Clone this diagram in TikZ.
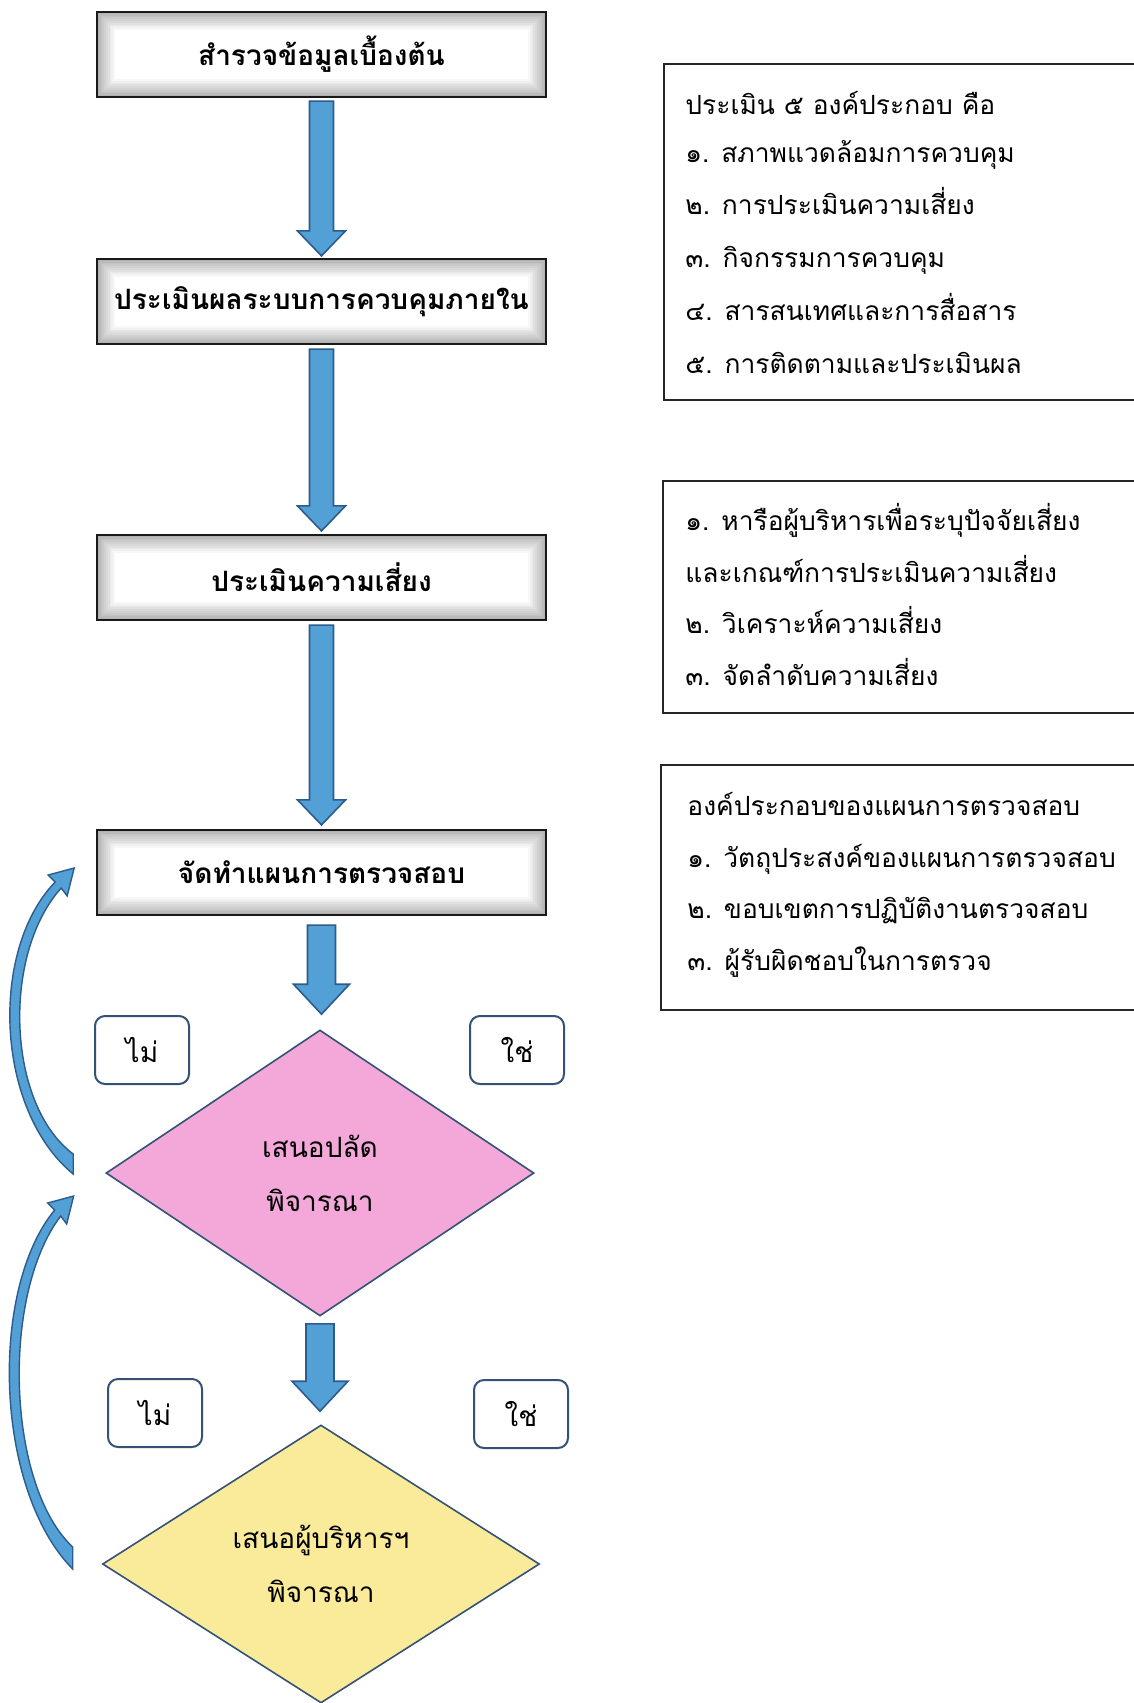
\documentclass[tikz,border=0pt]{standalone}
\usepackage{fontspec}
\newfontfamily\thai[Script=Thai]{Loma}
\usetikzlibrary{shapes.geometric,calc}
\definecolor{arrfill}{RGB}{82,160,214}
\definecolor{arrline}{RGB}{45,92,140}
\definecolor{pinkf}{RGB}{243,168,217}
\definecolor{yellowf}{RGB}{250,235,155}
\definecolor{dline}{RGB}{52,82,118}
\newcommand\fatarrow[5]{%
  \filldraw[fill=arrfill, draw=arrline, line width=0.8pt, line join=miter]
  let \p1=(#1), \p2=(#2) in
  (\x1-#3,\y1) -- (\x1+#3,\y1) -- (\x1+#3,\y2+#5) -- (\x1+#4,\y2+#5) -- (\x1,\y2)
  -- (\x1-#4,\y2+#5) -- (\x1-#3,\y2+#5) -- cycle;}
\begin{document}
\begin{tikzpicture}[x=0.5pt,y=-0.5pt,
  mainbox/.style={draw=black!90, line width=1.1pt, fill=white,
    minimum width=224.5pt, minimum height=42.5pt, inner sep=0pt,
    font=\thai\fontsize{14pt}{17pt}\selectfont\bfseries,
    path picture={
      \foreach \i in {0,...,9}{
        \pgfmathsetmacro\dd{0.5+\i*0.9}
        \pgfmathsetmacro\gg{30-\i*3}
        \draw[black!\gg, line width=1pt]
          ($(path picture bounding box.south west)+(\dd pt,\dd pt)$) rectangle
          ($(path picture bounding box.north east)+(-\dd pt,-\dd pt)$);
      }
    }},
  infobox/.style={draw=black!85, line width=0.8pt, fill=none, inner sep=0pt},
  rtext/.style={font=\thai\fontsize{13.2pt}{16pt}\selectfont, anchor=base west, inner sep=0pt},
  yn/.style={draw=dline, line width=1pt, rounded corners=5pt, fill=white,
    minimum width=47pt, minimum height=34pt, inner sep=0pt,
    font=\thai\fontsize{14pt}{17pt}\selectfont},
  decis/.style={diamond, draw=dline, line width=0.8pt, inner sep=0pt, align=center,
    font=\thai\fontsize{14pt}{27pt}\selectfont},
  curvearr/.style={fill=arrfill, draw=arrline, line width=0.7pt, line join=miter}
]
\useasboundingbox (0,0) rectangle (1134,1703);
\clip (0,0) rectangle (1134,1703);
\fill[white] (0,0) rectangle (1134,1703);

% main process boxes
\node[mainbox] (b1) at (321.5,54.5) {สำรวจข้อมูลเบื้องต้น};
\node[mainbox] (b2) at (321.5,301.5) {ประเมินผลระบบการควบคุมภายใน};
\node[mainbox] (b3) at (321.5,577.5) {ประเมินความเสี่ยง};
\node[mainbox] (b4) at (321.5,872.5) {จัดทำแผนการตรวจสอบ};

% decisions
\node[decis, fill=pinkf, minimum width=214pt, minimum height=143pt] (d1) at (320,1173) {เสนอปลัด\\พิจารณา};
\node[decis, fill=yellowf, minimum width=218.5pt, minimum height=139pt] (d2) at (321,1564) {เสนอผู้บริหารฯ\\พิจารณา};

% yes / no labels
\node[yn] (n1) at (142,1050) {ไม่};
\node[yn] (y1) at (517,1050) {ใช่};
\node[yn] (n2) at (155,1413) {ไม่};
\node[yn] (y2) at (521,1414) {ใช่};

% downward block arrows
\fatarrow{$(b1.south)+(0,3)$}{$(b2.north)+(0,-2)$}{6pt}{12pt}{12.5pt}
\fatarrow{$(b2.south)+(0,4)$}{$(b3.north)+(0,-3)$}{6pt}{12pt}{12.5pt}
\fatarrow{$(b3.south)+(0,4)$}{$(b4.north)+(0,-4)$}{6pt}{12pt}{12.5pt}
\fatarrow{$(b4.south)+(0,9)$}{$(d1.north)+(0,-15)$}{7pt}{14pt}{15pt}
\fatarrow{$(d1.south)+(0,7)$}{$(d2.north)+(0,-13)$}{7pt}{14pt}{15pt}

% curved feedback arrows
\coordinate (c1t) at ($(d1.west)+(-32,-9)$);
\coordinate (c2t) at ($(d2.west)+(-29,-6)$);
\begin{scope}[shift={(c1t)}]
\filldraw[curvearr] (0,10) .. controls (-78,-54) and (-84,-214) .. (-18,-282)
  -- (-25,-289) -- (1,-296) -- (-6,-268) -- (-12,-276)
  .. controls (-72,-209) and (-66,-59) .. (0,-10) -- cycle;
\end{scope}
\begin{scope}[shift={(c2t)}]
\filldraw[curvearr] (0,11) .. controls (-78,-68) and (-84,-268) .. (-18,-348)
  -- (-25,-355) -- (1,-362) -- (-6,-334) -- (-12,-342)
  .. controls (-72,-263) and (-66,-73) .. (0,-11) -- cycle;
\end{scope}

% right information boxes
\node[infobox, minimum width=243pt, minimum height=168pt] (r1) at (907,232) {};
\node[infobox, minimum width=243.5pt, minimum height=116pt] (r2) at (906.5,597) {};
\node[infobox, minimum width=244.5pt, minimum height=122.5pt] (r3) at (905.5,887.5) {};

\node[rtext] (r1a) at (685,114) {ประเมิน ๕ องค์ประกอบ คือ};
\node[rtext] (r1b) at (685,162) {๑. สภาพแวดล้อมการควบคุม};
\node[rtext] (r1c) at (685,214) {๒. การประเมินความเสี่ยง};
\node[rtext] (r1d) at (685,267) {๓. กิจกรรมการควบคุม};
\node[rtext] (r1e) at (685,320) {๔. สารสนเทศและการสื่อสาร};
\node[rtext] (r1f) at (685,373) {๕. การติดตามและประเมินผล};

\node[rtext] (r2a) at (685,530) {๑. หารือผู้บริหารเพื่อระบุปัจจัยเสี่ยง};
\node[rtext] (r2b) at (685,582) {และเกณฑ์การประเมินความเสี่ยง};
\node[rtext] (r2c) at (685,633) {๒. วิเคราะห์ความเสี่ยง};
\node[rtext] (r2d) at (685,685) {๓. จัดลำดับความเสี่ยง};

\node[rtext] (r3a) at (687,815) {องค์ประกอบของแผนการตรวจสอบ};
\node[rtext] (r3b) at (687,867) {๑. วัตถุประสงค์ของแผนการตรวจสอบ};
\node[rtext] (r3c) at (687,918) {๒. ขอบเขตการปฏิบัติงานตรวจสอบ};
\node[rtext] (r3d) at (687,970) {๓. ผู้รับผิดชอบในการตรวจ};
\end{tikzpicture}
\end{document}
